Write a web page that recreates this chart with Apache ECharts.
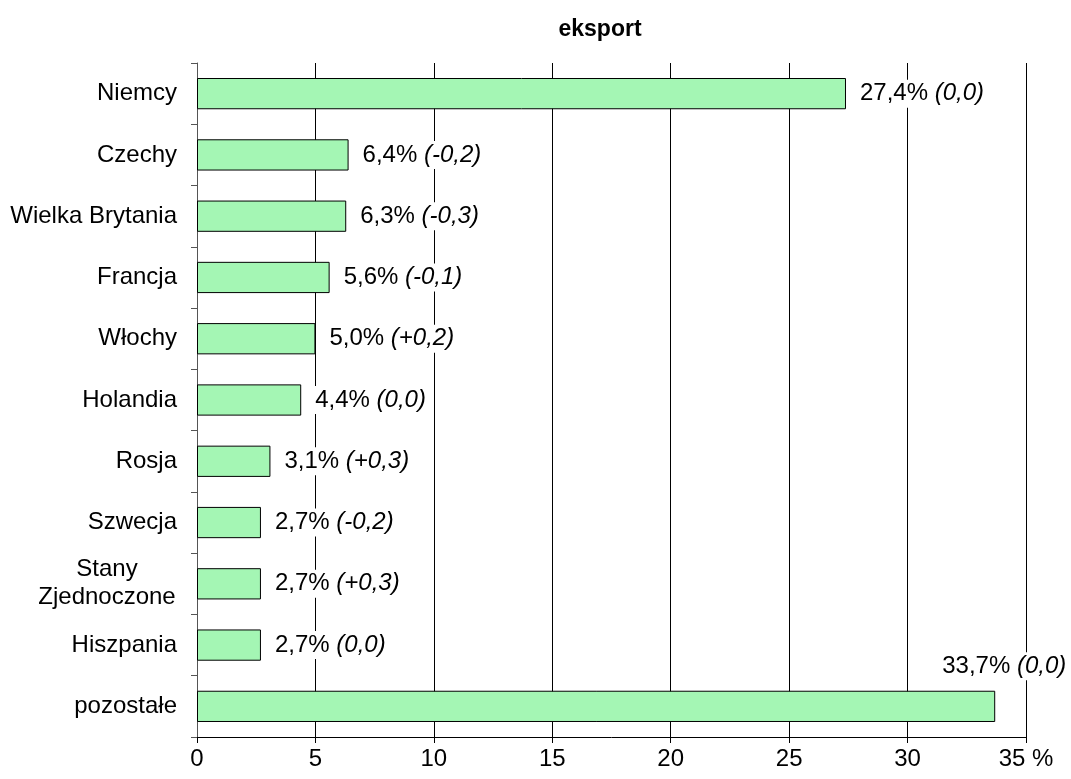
<!DOCTYPE html>
<html><head><meta charset="utf-8">
<script src="https://cdn.jsdelivr.net/npm/echarts@6/dist/echarts.min.js"></script>
<style>html,body{margin:0;padding:0;background:#fff}#c{width:1071px;height:779px}</style>
</head><body><div id="c"></div>
<script>
const categories = ['Niemcy','Czechy','Wielka Brytania','Francja','Włochy','Holandia','Rosja','Szwecja','Stany\nZjednoczone','Hiszpania','pozostałe'];
const values = [27.4, 6.4, 6.3, 5.6, 5.0, 4.4, 3.1, 2.7, 2.7, 2.7, 33.7];
const changes = ['(0,0)','(-0,2)','(-0,3)','(-0,1)','(+0,2)','(0,0)','(+0,3)','(-0,2)','(+0,3)','(0,0)','(0,0)'];
const xTicks = ['0','5','10','15','20','25','30','35 %'];
const title = 'eksport';

const FONT = '"Liberation Sans", Arial, sans-serif';
const FS = 24;
const chart = echarts.init(document.getElementById('c'), null, {renderer:'canvas'});
const data = values.map((v, i) => {
  const d = {value: v};
  if (i === values.length - 1) {
    d.label = {position: 'right', offset: [-67, -40]};
  }
  return d;
});
chart.setOption({
  animation: false,
  title: {text: title, left: 595, top: 13, textAlign: 'center',
    textStyle: {fontFamily: FONT, fontSize: 23, fontWeight: 'bold', color: '#000'}},
  grid: {left: 197, right: 45, top: 63, bottom: 42, containLabel: false},
  xAxis: {
    type: 'value', min: 0, max: 35, interval: 5,
    axisLine: {show: true, lineStyle: {color: '#000', width: 1}},
    axisTick: {show: true, length: 6, lineStyle: {color: '#000'}},
    axisLabel: {fontFamily: FONT, fontSize: FS, color: '#000', margin: 10,
      formatter: (v) => xTicks[Math.round(v / 5)]},
    splitLine: {show: true, lineStyle: {color: '#000', width: 1}}
  },
  yAxis: {
    type: 'category', data: categories, inverse: true,
    axisLine: {show: true, lineStyle: {color: '#555', width: 1}},
    axisTick: {show: true, length: 6, inside: false, lineStyle: {color: '#555'}},
    axisLabel: {fontFamily: FONT, fontSize: FS, color: '#000', margin: 20, lineHeight: 28,
      formatter: (v) => v.indexOf('\n') >= 0 ? v.split('\n').map(s => '{c|' + s + '}').join('\n') : v,
      rich: {c: {width: 140, align: 'center', fontFamily: FONT, fontSize: FS, color: '#000', lineHeight: 28}}}
  },
  series: [{
    type: 'bar', data: data, barWidth: '51%',
    itemStyle: {color: '#A4F6B4', borderColor: '#000', borderWidth: 1},
    label: {
      show: true, position: 'right', distance: 11,
      backgroundColor: '#fff', padding: [2, 3],
      formatter: (p) => '{n|' + p.value.toFixed(1).replace('.', ',') + '% }{i|' + changes[p.dataIndex] + '}',
      rich: {
        n: {fontFamily: FONT, fontSize: FS, color: '#000'},
        i: {fontFamily: FONT, fontSize: FS, color: '#000', fontStyle: 'italic'}
      }
    }
  }]
});
</script></body></html>
